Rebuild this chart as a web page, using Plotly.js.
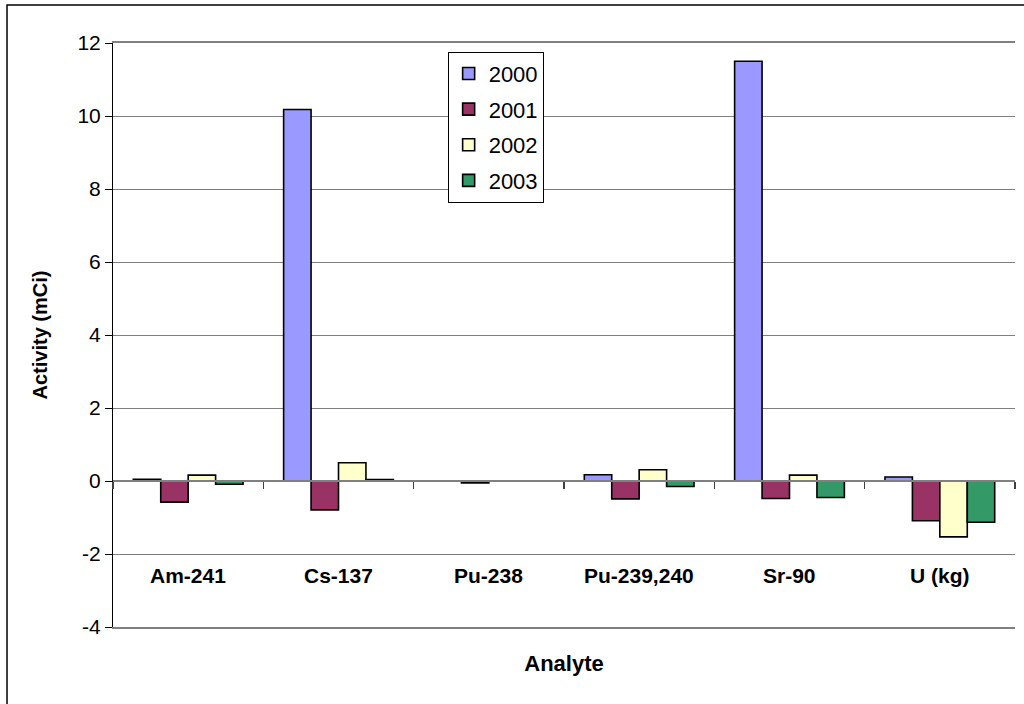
<!DOCTYPE html>
<html>
<head>
<meta charset="utf-8">
<script src="https://cdn.plot.ly/plotly-3.0.1.min.js"></script>
<style>html,body{margin:0;padding:0;background:#fff;}#chart{width:1024px;height:704px;}</style>
</head>
<body>
<div id="chart"></div>
<script>
var categories = ["Am-241", "Cs-137", "Pu-238", "Pu-239,240", "Sr-90", "U (kg)"];
var years = ["2000", "2001", "2002", "2003"];
var v2000 = [0.05, 10.18, null, 0.17, 11.5, 0.11];
var v2001 = [-0.58, -0.79, -0.05, -0.49, -0.48, -1.09];
var v2002 = [0.16, 0.50, null, 0.31, 0.16, -1.53];
var v2003 = [-0.09, 0.04, null, -0.15, -0.45, -1.13];
var seriesValues = [v2000, v2001, v2002, v2003];
var colors = ["#9999FF", "#993366", "#FFFFCC", "#339966"];
var yTicks = [-4, -2, 0, 2, 4, 6, 8, 10, 12];
var yTickText = ["-4", "-2", "0", "2", "4", "6", "8", "10", "12"];
var FONT = "Liberation Sans, Arial, sans-serif";

var traces = seriesValues.map(function (vals, i) {
  return {
    type: "bar",
    name: years[i],
    x: categories,
    y: vals,
    legendgroup: "g" + i,
    marker: { color: colors[i], line: { color: "#000000", width: 1.6 } },
    hoverinfo: "x+y+name"
  };
});
// invisible helper trace for the category axis drawn at y = 0
traces.push({
  type: "scatter", mode: "markers", x: [0], y: [0], xaxis: "x2", yaxis: "y",
  marker: { opacity: 0 }, showlegend: false, hoverinfo: "skip"
});

var bounds = [];
for (var k = 0; k <= categories.length; k++) bounds.push(k - 0.5);

var annotations = categories.map(function (c) {
  return {
    x: c, y: -2.6, xref: "x", yref: "y", text: c, showarrow: false,
    font: { family: FONT, size: 21, color: "#000", weight: "bold" }
  };
});

var layout = {
  width: 1024, height: 704,
  margin: { l: 113, r: 9, t: 43, b: 77 },
  paper_bgcolor: "#ffffff", plot_bgcolor: "#ffffff",
  font: { family: FONT, size: 20, color: "#000" },
  barmode: "group", bargap: 0.27, bargroupgap: 0,
  showlegend: true,
  legend: {
    x: 0.371, y: 0.985, xanchor: "left", yanchor: "top",
    bgcolor: "#ffffff", bordercolor: "#000000", borderwidth: 1,
    font: { family: FONT, size: 22, color: "#000" },
    tracegroupgap: 4, traceorder: "grouped", itemwidth: 30
  },
  xaxis: {
    type: "category", range: [-0.5, 5.5],
    showticklabels: false, ticks: "", showgrid: false, zeroline: false,
    showline: true, linecolor: "#808080", linewidth: 2, mirror: true,
    title: { text: "Analyte", font: { family: FONT, size: 22, weight: "bold" }, standoff: 28 }
  },
  xaxis2: {
    overlaying: "x", anchor: "free", position: 0.25, range: [-0.5, 5.5],
    showticklabels: false, showgrid: false, zeroline: false,
    showline: true, linecolor: "#808080", linewidth: 2,
    ticks: "outside", ticklen: 7, tickwidth: 1.5, tickcolor: "#404040",
    tickmode: "array", tickvals: bounds
  },
  yaxis: {
    range: [-4, 12], tickmode: "array", tickvals: yTicks, ticktext: yTickText,
    ticks: "outside", ticklen: 7, tickcolor: "#000", tickwidth: 1,
    showline: true, linecolor: "#000", linewidth: 1,
    showgrid: true, gridcolor: "#808080", gridwidth: 1, zeroline: false,
    tickfont: { family: FONT, size: 21 },
    title: { text: "Activity (mCi)", font: { family: FONT, size: 20, weight: "bold" }, standoff: 24 }
  },
  annotations: annotations,
  shapes: [{
    type: "rect", xref: "paper", yref: "paper",
    x0: -0.1175, x1: 1.03, y0: -0.16, y1: 1.065,
    line: { color: "#000", width: 1.5 }, fillcolor: "rgba(0,0,0,0)", layer: "below"
  }]
};

Plotly.newPlot("chart", traces, layout, { displayModeBar: false, staticPlot: true });
</script>
</body>
</html>
